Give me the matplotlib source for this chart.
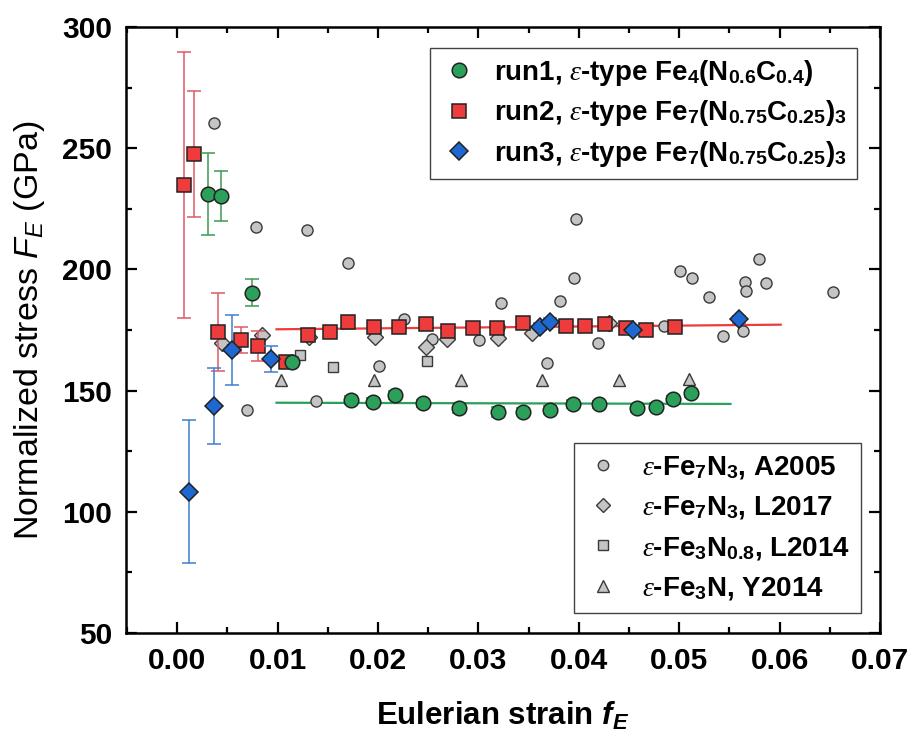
import matplotlib
matplotlib.use("Agg")
import matplotlib.pyplot as plt
from matplotlib.lines import Line2D
import numpy as np

plt.rcParams['font.family'] = ['Liberation Sans', 'DejaVu Sans']
plt.rcParams['mathtext.fontset'] = 'custom'
plt.rcParams['mathtext.rm'] = 'Liberation Sans:bold'
plt.rcParams['mathtext.bf'] = 'Liberation Sans:bold'
plt.rcParams['mathtext.it'] = 'Liberation Serif:italic'
plt.rcParams['mathtext.sf'] = 'Liberation Sans:bold:italic'
plt.rcParams['mathtext.tt'] = 'Liberation Sans:italic'

# ---- run1 (green circles) ----
run1_x = [0.00312, 0.00438, 0.00744, 0.0114, 0.01733, 0.0195, 0.02165, 0.02444,
          0.02809, 0.03194, 0.03449, 0.03715, 0.03947, 0.04206, 0.04578, 0.04771,
          0.04934, 0.05117]
run1_y = [231.0, 230.3, 190.4, 162.0, 146.1, 145.4, 148.2, 144.8,
          142.7, 141.3, 141.3, 142.0, 144.5, 144.4, 142.7, 143.4,
          146.4, 148.9]
run1_err = [17.0, 10.5, 5.7, 2.0, 1.5, 1.5, 1.5, 1.5,
            2.0, 2.0, 1.5, 1.5, 1.5, 1.5, 1.5, 1.5, 1.5, 1.5]
fit1_x = [0.0099, 0.0551]
fit1_y = [145.0, 144.5]

# ---- run2 (red squares) ----
run2_x = [0.00067, 0.00173, 0.00405, 0.00637, 0.0081, 0.01086, 0.0130, 0.01524,
          0.01706, 0.01965, 0.02214, 0.02477, 0.02702, 0.02945, 0.03184, 0.03443,
          0.03875, 0.04064, 0.04263, 0.04469, 0.04668, 0.0496]
run2_y = [234.8, 247.7, 174.1, 170.9, 168.4, 161.9, 172.9, 174.3,
          178.4, 176.4, 176.4, 177.5, 174.7, 175.7, 175.7, 178.0,
          176.8, 176.8, 177.4, 175.7, 175.0, 176.4]
run2_err = [55.0, 26.0, 16.0, 5.5, 6.0, 2.0, 2.0, 1.5,
            1.5, 1.5, 1.5, 1.5, 1.5, 1.5, 1.5, 1.5,
            1.5, 1.5, 1.5, 1.5, 1.5, 1.5]
fit2_x = [0.0099, 0.0601]
fit2_y = [175.3, 177.2]

# ---- run3 (blue diamonds) ----
run3_x = [0.00123, 0.00365, 0.00545, 0.00936, 0.03616, 0.03715, 0.04538, 0.0560]
run3_y = [108.3, 143.7, 166.8, 163.0, 176.4, 178.4, 175.0, 179.4]
run3_err = [29.5, 15.8, 14.3, 5.5, 1.5, 1.5, 1.5, 1.5]

# ---- literature ----
a2005_x = [0.0037, 0.0079, 0.00697, 0.01298, 0.01706, 0.01384, 0.0226, 0.02543,
           0.03005, 0.02012, 0.03224, 0.0321, 0.03815, 0.03957, 0.03974, 0.04196,
           0.03682, 0.0485, 0.0501, 0.05127, 0.05299, 0.0579, 0.05657, 0.05667,
           0.05863, 0.06527, 0.05435, 0.0564]
a2005_y = [260.3, 217.4, 142.0, 216.3, 202.5, 145.9, 179.4, 171.3,
           171.0, 160.3, 186.3, 176.4, 187.1, 196.6, 220.8, 169.5,
           161.3, 176.7, 199.5, 196.6, 188.5, 204.3, 194.7, 191.2,
           194.3, 190.8, 172.5, 174.6]
l2017_x = [0.00445, 0.0085, 0.0131, 0.01972, 0.02477, 0.02686, 0.032, 0.03533, 0.04296]
l2017_y = [169.5, 173.0, 172.0, 172.3, 167.9, 171.3, 171.6, 173.9, 177.8]
l2014_x = [0.00545, 0.0122, 0.01557, 0.02487]
l2014_y = [167.0, 164.7, 159.9, 162.2]
y2014_x = [0.0103, 0.01965, 0.02829, 0.03632, 0.04396, 0.05093]
y2014_y = [154.3, 154.4, 154.4, 154.4, 154.4, 154.7]

green = '#2aa05a'
red = '#ee3b3b'
blue = '#1f68d2'
grey = '#c4c4c4'
grey_edge = '#3a3a3a'
green_err = '#3c9a50'
red_err = '#de5a64'
blue_err = '#3d7fd0'

fig = plt.figure(figsize=(9.12, 7.34), dpi=100)
ax = fig.add_axes([0.138, 0.1376, 0.827, 0.8256])

# literature symbols
ax.plot(a2005_x, a2005_y, 'o', ms=8, mfc=grey, mec=grey_edge, mew=1.0, ls='none', zorder=3)
ax.plot(l2017_x, l2017_y, 'D', ms=8, mfc=grey, mec=grey_edge, mew=1.0, ls='none', zorder=3)
ax.plot(l2014_x, l2014_y, 's', ms=7.5, mfc=grey, mec=grey_edge, mew=1.0, ls='none', zorder=3)
ax.plot(y2014_x, y2014_y, '^', ms=9, mfc=grey, mec=grey_edge, mew=1.0, ls='none', zorder=3)

# fits
ax.plot(fit1_x, fit1_y, '-', color=green, lw=1.6, zorder=2)
ax.plot(fit2_x, fit2_y, '-', color=red, lw=1.6, zorder=2)

# runs with error bars
ax.errorbar(run2_x, run2_y, yerr=run2_err, fmt='s', ms=9.5, mfc=red, mec='#222222', mew=1.1,
            ecolor=red_err, elinewidth=1.1, capsize=5, capthick=1.1, zorder=4)
ax.errorbar(run1_x, run1_y, yerr=run1_err, fmt='o', ms=10.5, mfc=green, mec='#222222', mew=1.1,
            ecolor=green_err, elinewidth=1.1, capsize=5, capthick=1.1, zorder=5)
ax.errorbar(run3_x, run3_y, yerr=run3_err, fmt='D', ms=9.5, mfc=blue, mec='#222222', mew=1.1,
            ecolor=blue_err, elinewidth=1.1, capsize=5, capthick=1.1, zorder=6)

ax.set_xlim(-0.0051, 0.07)
ax.set_ylim(50, 300)
ax.set_xticks(np.arange(0, 0.0701, 0.01))
ax.set_xticks(np.arange(-0.005, 0.0701, 0.005), minor=True)
ax.set_yticks(np.arange(50, 301, 50))
ax.set_yticks(np.arange(50, 301, 25), minor=True)
ax.set_xticklabels(['0.00', '0.01', '0.02', '0.03', '0.04', '0.05', '0.06', '0.07'])
ax.tick_params(which='both', direction='in', top=True, right=True, width=1.6)
ax.tick_params(which='major', length=8, labelsize=21.5, pad=10)
ax.tick_params(which='minor', length=4.5)
for lab in ax.get_xticklabels() + ax.get_yticklabels():
    lab.set_fontweight('bold')
for sp in ax.spines.values():
    sp.set_linewidth(1.8)

ax.set_xlabel(r'Eulerian strain $\mathsf{f_E}$', fontsize=22.5, fontweight='bold', labelpad=18)
ax.set_ylabel(r'Normalized stress $\mathtt{F_E}$ (GPa)', fontsize=24.5, labelpad=11)

# legends
h1 = [Line2D([], [], marker='o', ls='none', ms=10.5, mfc=green, mec='#222222', mew=1.1),
      Line2D([], [], marker='s', ls='none', ms=9.5, mfc=red, mec='#222222', mew=1.1),
      Line2D([], [], marker='D', ls='none', ms=9.5, mfc=blue, mec='#222222', mew=1.1)]
l1 = [r'run1, $\varepsilon$-type Fe$_4$(N$_{0.6}$C$_{0.4}$)',
      r'run2, $\varepsilon$-type Fe$_7$(N$_{0.75}$C$_{0.25}$)$_3$',
      r'run3, $\varepsilon$-type Fe$_7$(N$_{0.75}$C$_{0.25}$)$_3$']
leg1 = ax.legend(h1, l1, loc='upper right', bbox_to_anchor=(0.969, 0.965),
                 fancybox=False, framealpha=1, edgecolor='#444444',
                 prop={'size': 20, 'weight': 'bold'}, handletextpad=0.55, labelspacing=0.38,
                 handlelength=1.4, borderpad=0.35, borderaxespad=0)
leg1.get_frame().set_linewidth(1.0)
ax.add_artist(leg1)

h2 = [Line2D([], [], marker='o', ls='none', ms=7.5, mfc=grey, mec=grey_edge, mew=1.0),
      Line2D([], [], marker='D', ls='none', ms=7.5, mfc=grey, mec=grey_edge, mew=1.0),
      Line2D([], [], marker='s', ls='none', ms=7, mfc=grey, mec=grey_edge, mew=1.0),
      Line2D([], [], marker='^', ls='none', ms=8.5, mfc=grey, mec=grey_edge, mew=1.0)]
l2 = [r'$\varepsilon$-Fe$_7$N$_3$, A2005',
      r'$\varepsilon$-Fe$_7$N$_3$, L2017',
      r'$\varepsilon$-Fe$_3$N$_{0.8}$, L2014',
      r'$\varepsilon$-Fe$_3$N, Y2014']
leg2 = ax.legend(h2, l2, loc='lower right', bbox_to_anchor=(0.975, 0.033),
                 fancybox=False, framealpha=1, edgecolor='#444444',
                 prop={'size': 20, 'weight': 'bold'}, handletextpad=0.75, labelspacing=0.48,
                 handlelength=1.3, borderpad=0.4, borderaxespad=0)
leg2.get_frame().set_linewidth(1.0)

fig.savefig('out.png', dpi=100)
